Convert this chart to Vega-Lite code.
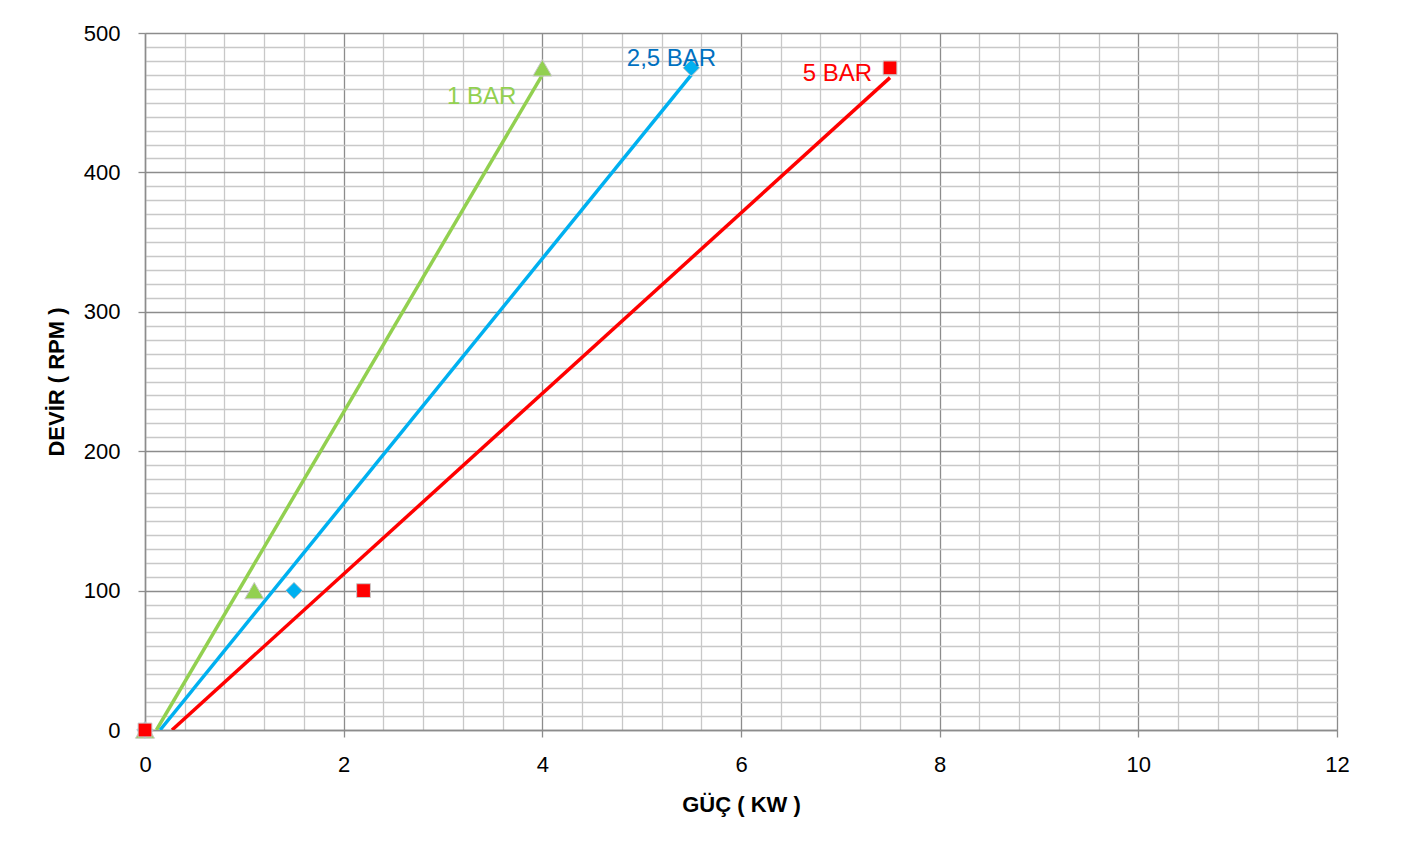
{
  "$schema": "https://vega.github.io/schema/vega-lite/v6.json",
  "width": 1192,
  "height": 697,
  "autosize": {"type": "none"},
  "padding": {"left": 145, "top": 33, "right": 67, "bottom": 121},
  "background": "white",
  "config": {"view": {"stroke": null}, "font": "Liberation Sans"},
  "datasets": {
    "points": [
      {"series": "1 BAR", "guc": 0, "devir": 0},
      {"series": "1 BAR", "guc": 1.1, "devir": 100},
      {"series": "1 BAR", "guc": 4, "devir": 475},
      {"series": "2,5 BAR", "guc": 0, "devir": 0},
      {"series": "2,5 BAR", "guc": 1.5, "devir": 100},
      {"series": "2,5 BAR", "guc": 5.5, "devir": 475},
      {"series": "5 BAR", "guc": 0, "devir": 0},
      {"series": "5 BAR", "guc": 2.2, "devir": 100},
      {"series": "5 BAR", "guc": 7.5, "devir": 475}
    ],
    "trend": [
      {"series": "1 BAR", "guc": 0.115, "devir": 0},
      {"series": "1 BAR", "guc": 4, "devir": 470},
      {"series": "2,5 BAR", "guc": 0.152, "devir": 0},
      {"series": "2,5 BAR", "guc": 5.5, "devir": 470},
      {"series": "5 BAR", "guc": 0.272, "devir": 0},
      {"series": "5 BAR", "guc": 7.5, "devir": 468}
    ],
    "labels": [
      {"series": "1 BAR", "guc": 3.39, "devir": 454},
      {"series": "2,5 BAR", "guc": 5.3, "devir": 481},
      {"series": "5 BAR", "guc": 6.97, "devir": 470.5}
    ]
  },
  "encoding": {
    "x": {
      "field": "guc",
      "type": "quantitative",
      "scale": {"domain": [0, 12], "nice": false, "zero": false},
      "axis": {
        "title": "GÜÇ ( KW )",
        "values": [0, 0.4, 0.8, 1.2, 1.6, 2, 2.4, 2.8, 3.2, 3.6, 4, 4.4, 4.8, 5.2, 5.6, 6, 6.4, 6.8, 7.2, 7.6, 8, 8.4, 8.8, 9.2, 9.6, 10, 10.4, 10.8, 11.2, 11.6, 12],
        "labelExpr": "abs(datum.value/2 - round(datum.value/2)) < 0.001 ? format(datum.value, 'd') : ''",
        "labelOverlap": false,
        "labelFlush": false,
        "labelBound": false,
        "labelFontSize": 22,
        "labelColor": "#000000",
        "labelPadding": 17,
        "grid": true,
        "gridColor": {"condition": {"test": "abs(datum.value/2 - round(datum.value/2)) < 0.001", "value": "#8c8c8c"}, "value": "#c8c8c8"},
        "gridWidth": 1.3,
        "tickOpacity": {"condition": {"test": "abs(datum.value/2 - round(datum.value/2)) < 0.001", "value": 1}, "value": 0},
        "tickSize": 7,
        "tickColor": "#8c8c8c",
        "tickWidth": 1.3,
        "domainColor": "#8c8c8c",
        "domainWidth": 1.5,
        "titleFontSize": 22,
        "titleFontWeight": "bold",
        "titleColor": "#000000",
        "titlePadding": 19
      }
    },
    "y": {
      "field": "devir",
      "type": "quantitative",
      "scale": {"domain": [0, 500], "nice": false},
      "axis": {
        "title": "DEVİR ( RPM )",
        "values": [0, 10, 20, 30, 40, 50, 60, 70, 80, 90, 100, 110, 120, 130, 140, 150, 160, 170, 180, 190, 200, 210, 220, 230, 240, 250, 260, 270, 280, 290, 300, 310, 320, 330, 340, 350, 360, 370, 380, 390, 400, 410, 420, 430, 440, 450, 460, 470, 480, 490, 500],
        "labelExpr": "datum.value % 100 === 0 ? format(datum.value, 'd') : ''",
        "labelOverlap": false,
        "labelFlush": false,
        "labelBound": false,
        "labelFontSize": 22,
        "labelColor": "#000000",
        "labelPadding": 18,
        "grid": true,
        "gridColor": {"condition": {"test": "datum.value % 100 === 0", "value": "#8c8c8c"}, "value": "#c8c8c8"},
        "gridWidth": 1.3,
        "tickOpacity": {"condition": {"test": "datum.value % 100 === 0", "value": 1}, "value": 0},
        "tickSize": 7,
        "tickColor": "#8c8c8c",
        "tickWidth": 1.3,
        "domainColor": "#8c8c8c",
        "domainWidth": 1.5,
        "titleFontSize": 22,
        "titleFontWeight": "bold",
        "titleColor": "#000000",
        "titlePadding": 15
      }
    }
  },
  "layer": [
    {
      "data": {"name": "trend"},
      "mark": {"type": "line", "strokeWidth": 3.5, "clip": true},
      "encoding": {
        "color": {"field": "series", "type": "nominal", "scale": {"domain": ["1 BAR", "2,5 BAR", "5 BAR"], "range": ["#92D050", "#00B0F0", "#FF0000"]}, "legend": null},
        "detail": {"field": "series"}
      }
    },
    {
      "data": {"name": "points"},
      "mark": {"type": "point", "filled": true, "opacity": 1, "stroke": "#c8c8c8", "strokeWidth": 1, "clip": false},
      "encoding": {
        "color": {"field": "series", "type": "nominal", "scale": {"domain": ["1 BAR", "2,5 BAR", "5 BAR"], "range": ["#92D050", "#00B0F0", "#FF0000"]}, "legend": null},
        "shape": {"field": "series", "type": "nominal", "scale": {"domain": ["1 BAR", "2,5 BAR", "5 BAR"], "range": ["triangle-up", "diamond", "square"]}, "legend": null},
        "size": {"field": "series", "type": "nominal", "scale": {"domain": ["1 BAR", "2,5 BAR", "5 BAR"], "range": [360, 190, 180]}, "legend": null}
      }
    },
    {
      "data": {"name": "labels"},
      "mark": {"type": "text", "fontSize": 24, "align": "center", "baseline": "middle"},
      "encoding": {
        "text": {"field": "series"},
        "color": {"field": "series", "type": "nominal", "scale": {"domain": ["1 BAR", "2,5 BAR", "5 BAR"], "range": ["#92D050", "#0070C0", "#FF0000"]}, "legend": null}
      }
    }
  ],
  "resolve": {"scale": {"color": "independent"}}
}
